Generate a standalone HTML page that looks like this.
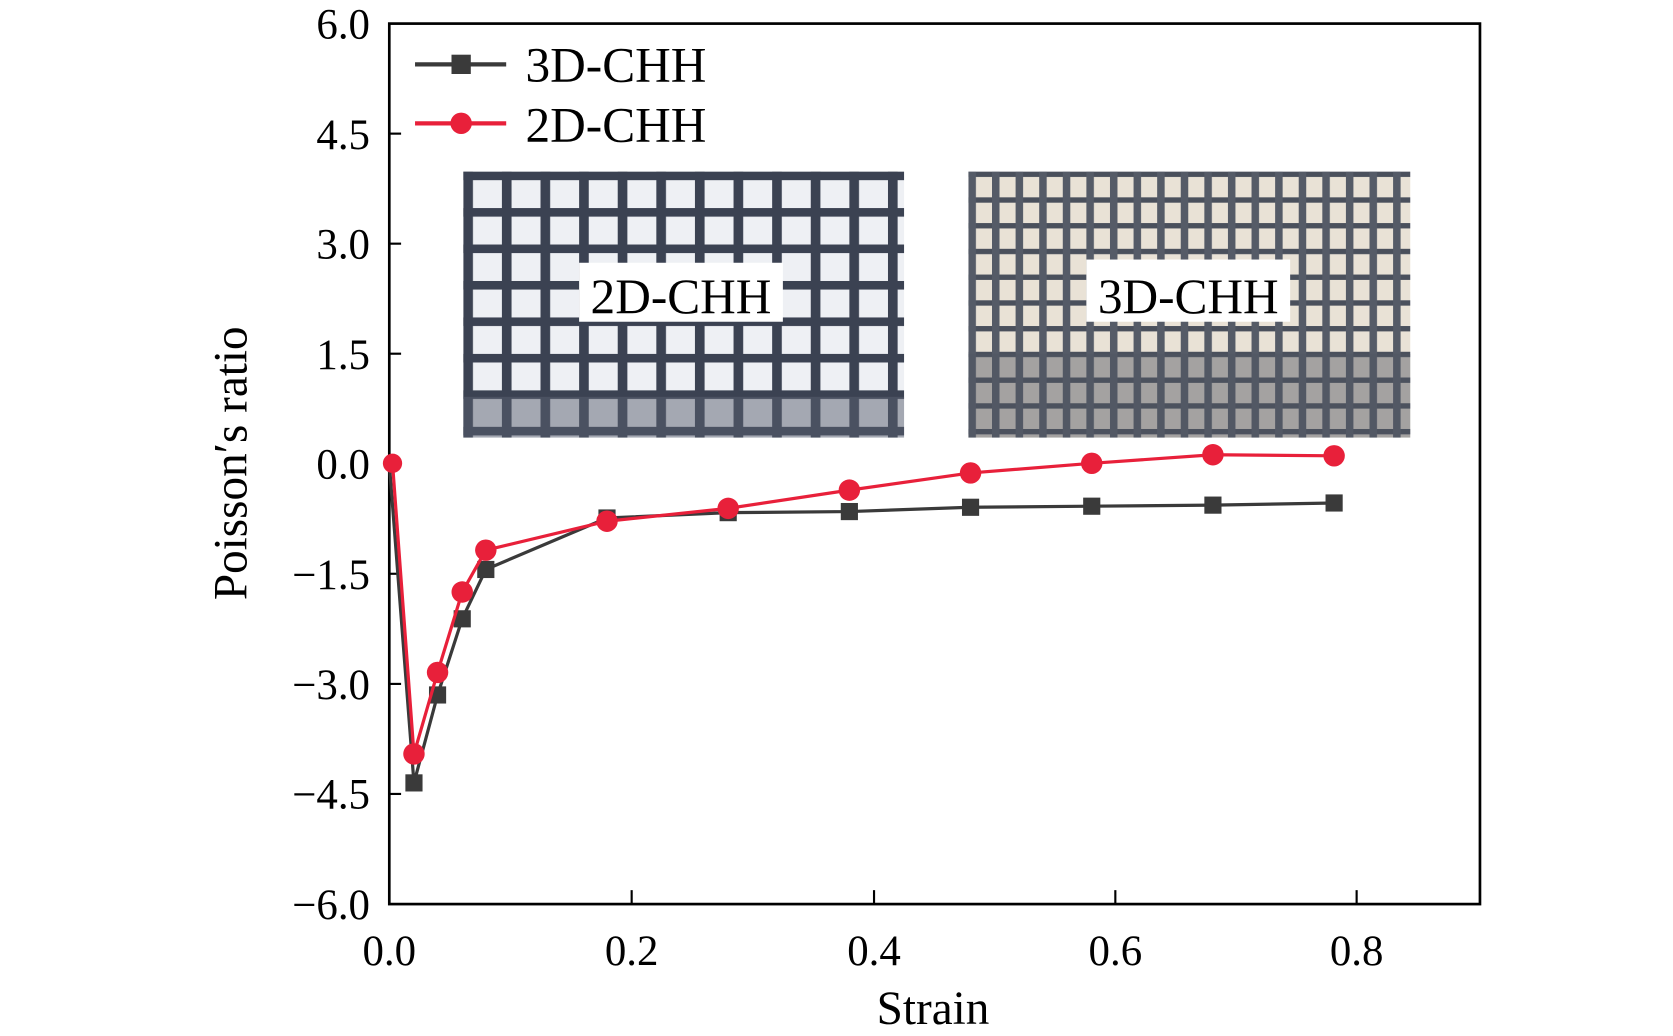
<!DOCTYPE html>
<html><head><meta charset="utf-8"><style>html,body{margin:0;padding:0;background:#fff}svg{display:block}</style></head>
<body>
<svg width="1673" height="1036" viewBox="0 0 1560 966" preserveAspectRatio="none" xmlns="http://www.w3.org/2000/svg" font-family="Liberation Serif, serif">
<defs>
<pattern id="p2d" x="432" y="160" width="36" height="34" patternUnits="userSpaceOnUse">
<rect width="36" height="34" fill="#eef0f4"/>
<rect x="0" y="0" width="36" height="8" fill="#3b4252"/>
<rect x="0" y="0" width="9" height="34" fill="#3b4252"/>
</pattern>
<pattern id="p3d" x="903" y="160" width="22" height="24" patternUnits="userSpaceOnUse">
<rect width="22" height="24" fill="#e9e2d6"/>
<rect x="0" y="0" width="22" height="5" fill="#4a505c"/>
<rect x="0" y="0" width="7" height="24" fill="#555b67"/>
</pattern>
</defs>
<!-- insets -->
<rect x="432" y="160" width="411" height="248" fill="url(#p2d)"/>
<rect x="432" y="370" width="411" height="38" fill="#5a6070" opacity="0.5"/>
<rect x="903" y="160" width="412" height="248" fill="url(#p3d)"/>
<rect x="903" y="330" width="412" height="78" fill="#4f5562" opacity="0.45"/>
<rect x="540" y="245" width="190" height="55" fill="#fff"/>
<rect x="1013" y="242" width="190" height="58" fill="#fff"/>
<text x="635" y="292" font-size="46" text-anchor="middle" fill="#000">2D-CHH</text>
<text x="1108" y="292" font-size="46" text-anchor="middle" fill="#000">3D-CHH</text>
<!-- axes -->
<rect x="363" y="22" width="1017" height="821" fill="none" stroke="#000" stroke-width="2.5"/>
<g stroke="#000" stroke-width="2">
<line x1="363" y1="124.6" x2="374" y2="124.6"/><line x1="363" y1="227.2" x2="374" y2="227.2"/>
<line x1="363" y1="329.8" x2="374" y2="329.8"/><line x1="363" y1="432.5" x2="374" y2="432.5"/>
<line x1="363" y1="535" x2="374" y2="535"/><line x1="363" y1="637.7" x2="374" y2="637.7"/>
<line x1="363" y1="740.3" x2="374" y2="740.3"/>
<line x1="589" y1="843" x2="589" y2="830"/><line x1="815" y1="843" x2="815" y2="830"/>
<line x1="1040" y1="843" x2="1040" y2="830"/><line x1="1265" y1="843" x2="1265" y2="830"/>
</g>
<g font-size="40" text-anchor="end" fill="#000">
<text x="345" y="36">6.0</text><text x="345" y="139">4.5</text><text x="345" y="241">3.0</text>
<text x="345" y="344">1.5</text><text x="345" y="446">0.0</text><text x="345" y="549">−1.5</text>
<text x="345" y="652">−3.0</text><text x="345" y="754">−4.5</text><text x="345" y="857">−6.0</text>
</g>
<g font-size="40" text-anchor="middle" fill="#000">
<text x="363" y="900">0.0</text><text x="589" y="900">0.2</text><text x="815" y="900">0.4</text>
<text x="1040" y="900">0.6</text><text x="1265" y="900">0.8</text>
<text x="870" y="955" font-size="44">Strain</text>
</g>
<text transform="translate(230,432) rotate(-90)" font-size="44" text-anchor="middle" fill="#000">Poisson′s ratio</text>
<!-- black series -->
<polyline fill="none" stroke="#3a3a3a" stroke-width="3" points="363,432 386,730 408,648 431,577 453,531 566,483 679,478 792,477 905,473 1018,472 1131,471 1244,469"/>
<g fill="#3a3a3a">
<rect x="378" y="722" width="16" height="16"/><rect x="400" y="640" width="16" height="16"/><rect x="423" y="569" width="16" height="16"/>
<rect x="445" y="523" width="16" height="16"/><rect x="558" y="475" width="16" height="16"/><rect x="671" y="470" width="16" height="16"/>
<rect x="784" y="469" width="16" height="16"/><rect x="897" y="465" width="16" height="16"/><rect x="1010" y="464" width="16" height="16"/>
<rect x="1123" y="463" width="16" height="16"/><rect x="1236" y="461" width="16" height="16"/>
</g>
<!-- red series -->
<polyline fill="none" stroke="#e8203a" stroke-width="3" points="366,432 386,703 408,627 431,552 453,513 566,486 679,474 792,457 905,441 1018,432 1131,424 1244,425"/>
<g fill="#e8203a">
<circle cx="366" cy="432" r="9"/><circle cx="386" cy="703" r="10"/><circle cx="408" cy="627" r="10"/><circle cx="431" cy="552" r="10"/>
<circle cx="453" cy="513" r="10"/><circle cx="566" cy="486" r="10"/><circle cx="679" cy="474" r="10"/><circle cx="792" cy="457" r="10"/>
<circle cx="905" cy="441" r="10"/><circle cx="1018" cy="432" r="10"/><circle cx="1131" cy="424" r="10"/><circle cx="1244" cy="425" r="10"/>
</g>
<!-- legend -->
<line x1="387" y1="60" x2="472" y2="60" stroke="#3a3a3a" stroke-width="4"/>
<rect x="421" y="51" width="18" height="18" fill="#3a3a3a"/>
<text x="490" y="76" font-size="46" fill="#000">3D-CHH</text>
<line x1="387" y1="115" x2="472" y2="115" stroke="#e8203a" stroke-width="4"/>
<circle cx="430" cy="115" r="10" fill="#e8203a"/>
<text x="490" y="132" font-size="46" fill="#000">2D-CHH</text>
</svg>
</body></html>
